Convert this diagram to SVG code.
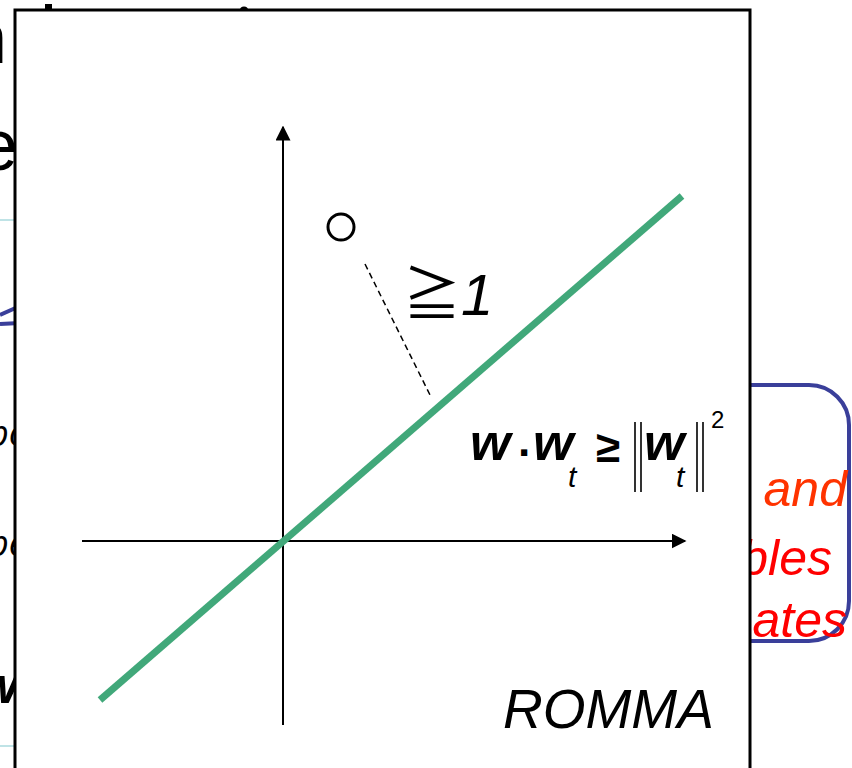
<svg xmlns="http://www.w3.org/2000/svg" width="852" height="768" viewBox="0 0 852 768">
<style>
.bgtitle{font-family:"Liberation Sans",Arial,sans-serif;font-size:72px;fill:#000}
.bgit{font-family:"Open Sans","Liberation Sans",sans-serif;font-style:italic;font-size:36px;fill:#000}
.red{font-family:"Liberation Sans",Arial,sans-serif;font-style:italic;font-size:50px}
.wb{font-family:"Liberation Sans",Arial,sans-serif;font-style:italic;font-weight:bold;font-size:52px;fill:#000}
.sub{font-family:"Liberation Sans",Arial,sans-serif;font-style:italic;font-size:30px;fill:#000}
.ax{stroke:#000;stroke-width:2;fill:none}
</style>
<defs>
<marker id="ah" viewBox="0 0 10 10" refX="9" refY="5" markerWidth="7.5" markerHeight="7.5" markerUnits="strokeWidth" orient="auto">
<path d="M0,0 L10,5 L0,10 z" fill="#000"/>
</marker>
</defs>
<rect width="852" height="768" fill="#fff"/>
<g id="background">
<text class="bgtitle" x="-33" y="63">n</text>
<text class="bgtitle" x="-22" y="170">e</text>
<rect x="45" y="4" width="7" height="8" fill="#000"/>
<ellipse cx="244" cy="10" rx="4" ry="3.5" fill="#000"/>
<line x1="0" y1="220" x2="20" y2="220" stroke="#bfe3e6" stroke-width="2"/>
<line x1="0" y1="746" x2="20" y2="746" stroke="#bfe3e6" stroke-width="2"/>
<path d="M0,315 L20,306 M0,324 L20,323" stroke="#3a3f9a" stroke-width="4" fill="none"/>
<text class="bgit" x="-12" y="446">po</text>
<text class="bgit" x="-12" y="556">pe</text>
<text class="wb" x="-22" y="703" font-size="56">w</text>
<rect x="560" y="385" width="289" height="256" rx="40" ry="40" fill="none" stroke="#3a3f9a" stroke-width="4"/>
<text class="red" x="847" y="506" text-anchor="end" fill="#ff3300">and</text>
<text class="red" x="832" y="575" text-anchor="end" fill="#ff0000">bles</text>
<text class="red" x="847" y="637" text-anchor="end" fill="#ff0000">ates</text>
</g>
<g id="panel">
<rect x="15" y="10" width="735" height="800" fill="#fff" stroke="#000" stroke-width="3"/>
</g>
<g id="connectors">
<line class="ax" x1="283" y1="725" x2="283" y2="127" marker-end="url(#ah)"/>
<line class="ax" x1="82" y1="541" x2="685" y2="541" marker-end="url(#ah)"/>
<line x1="100" y1="700" x2="682" y2="196" stroke="#41a87a" stroke-width="7"/>
<line x1="365" y1="264" x2="431" y2="397" stroke="#000" stroke-width="1.5" stroke-dasharray="6 4"/>
</g>
<g id="point">
<circle cx="341" cy="227" r="13" fill="none" stroke="#000" stroke-width="3"/>
</g>
<g id="margin-label">
<text x="403" y="315" font-family="'Liberation Sans','Noto Sans CJK JP',sans-serif" font-size="58" fill="#000">≧<tspan font-style="italic" font-size="58">1</tspan></text>
</g>
<g id="constraint">
<text class="wb" x="470" y="460">w</text>
<text x="518" y="468" font-family="'Liberation Sans',sans-serif" font-weight="bold" font-size="44" fill="#000">·</text>
<text class="wb" x="533" y="460">w</text>
<text class="sub" x="568" y="487">t</text>
<text x="596" y="462" font-family="'Liberation Sans',sans-serif" font-weight="bold" font-size="44" fill="#000">≥</text>
<path d="M635,422 V492 M641,422 V492 M697,422 V492 M703,422 V492" stroke="#000" stroke-width="1.6" fill="none"/>
<text class="wb" x="644" y="460">w</text>
<text class="sub" x="676" y="487">t</text>
<text x="711" y="428" font-family="'Liberation Sans',sans-serif" font-size="24" fill="#000">2</text>
</g>
<g id="title">
<text x="503" y="728" font-family="'Liberation Sans',Arial,sans-serif" font-style="italic" font-size="55" fill="#000">ROMMA</text>
</g>
</svg>
